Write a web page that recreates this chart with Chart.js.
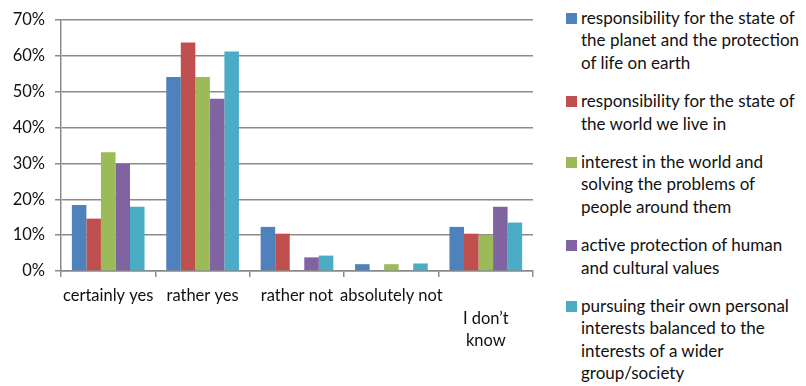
<!DOCTYPE html>
<html>
<head>
<meta charset="utf-8">
<script src="https://cdn.jsdelivr.net/npm/chart.js@4.4.1/dist/chart.umd.min.js"></script>
<style>
  html, body { margin: 0; padding: 0; background: #fff; }
  #wrap { position: relative; width: 806px; height: 386px; }
  #box { position: absolute; left: 0; top: 0; width: 545px; height: 386px; }
  #legend {
    position: absolute; left: 566px; top: 7px; width: 240px;
    font-family: Lato, "Open Sans", sans-serif; font-size: 17px; color: #111;
  }
  #legend .item { position: relative; padding-left: 15px; margin-bottom: 16px; line-height: 22.4px; white-space: pre-line; }
  #legend .sw { position: absolute; left: 0; top: 6px; width: 11px; height: 11px; }
</style>
</head>
<body>
<div id="wrap">
  <div id="box"><canvas id="chart"></canvas></div>
  <div id="legend"></div>
</div>
<script>
const categories = ['certainly yes', 'rather yes', 'rather not', 'absolutely not', ['', 'I don\u2019t', 'know']];

const seriesNames = [
  'responsibility for the state of\nthe planet and the protection\nof life on earth',
  'responsibility for the state of\nthe world we live in',
  'interest in the world and\nsolving the problems of\npeople around them',
  'active protection of human\nand cultural values',
  'pursuing their own personal\ninterests balanced to the\ninterests of a wider\ngroup/society'
];

const planet   = [18.4, 54.1, 12.3, 1.9, 12.3];
const world    = [14.6, 63.7, 10.4, 0,   10.4];
const interest = [33.1, 54.1, 0,    1.9, 10.1];
const values   = [29.8, 48.0, 3.8,  0,   17.9];
const personal = [17.9, 61.2, 4.3,  2.1, 13.5];

const colors = ['#4F81BD', '#C0504D', '#9BBB59', '#8064A2', '#4BACC6'];
const seriesValues = [planet, world, interest, values, personal];

const gridColor = '#8a8a8a';
const font = { family: 'Lato, "Open Sans", sans-serif', size: 16.5 };

// legend drawn as html so the long labels can wrap onto several lines
const htmlLegend = {
  id: 'htmlLegend',
  afterUpdate(chart) {
    const el = document.getElementById('legend');
    el.innerHTML = '';
    chart.options.plugins.legend.labels.generateLabels(chart).forEach((item) => {
      const row = document.createElement('div');
      row.className = 'item';
      const sw = document.createElement('span');
      sw.className = 'sw';
      sw.style.background = item.fillStyle;
      row.appendChild(sw);
      row.appendChild(document.createTextNode(item.text));
      el.appendChild(row);
    });
  }
};

new Chart(document.getElementById('chart'), {
  type: 'bar',
  data: {
    labels: categories,
    datasets: seriesNames.map((name, i) => ({
      label: name,
      data: seriesValues[i],
      backgroundColor: colors[i],
      borderWidth: 0,
      categoryPercentage: 0.77,
      barPercentage: 1
    }))
  },
  options: {
    responsive: true,
    maintainAspectRatio: false,
    animation: false,
    layout: { padding: { top: 10, left: 0, right: 12, bottom: 0 } },
    plugins: {
      legend: { display: false },
      tooltip: { enabled: false }
    },
    scales: {
      x: {
        grid: { display: true, drawOnChartArea: false, offset: true, color: gridColor, lineWidth: 1.5, tickLength: 6 },
        border: { color: gridColor, width: 1.5 },
        ticks: { color: '#111', font: { ...font, lineHeight: 1.35 }, padding: 8, maxRotation: 0, autoSkip: false },
        afterFit(scale) { scale.height = 115; }
      },
      y: {
        min: 0,
        max: 70,
        grid: { color: gridColor, lineWidth: 1.5, tickLength: 6 },
        border: { color: gridColor, width: 1.5 },
        ticks: { stepSize: 10, color: '#111', font: font, padding: 10, callback: (v) => v + '%' },
        afterFit(scale) { scale.width = 61; }
      }
    }
  },
  plugins: [htmlLegend]
});
</script>
</body>
</html>
